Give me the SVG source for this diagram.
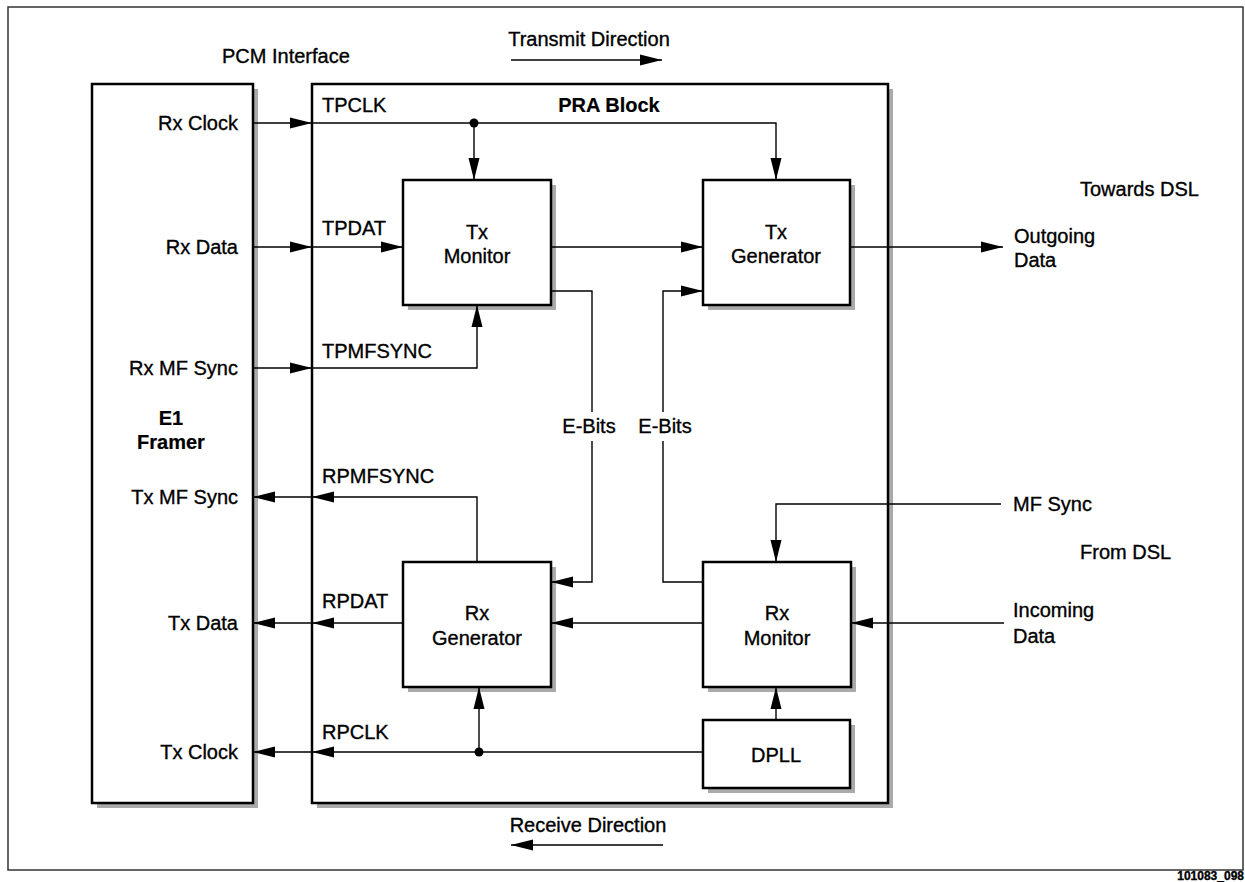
<svg xmlns="http://www.w3.org/2000/svg" width="1245" height="882" viewBox="0 0 1245 882">
<defs>
<style>
text{font-family:"Liberation Sans",Arial,sans-serif;font-size:20px;fill:#000;stroke:#000;stroke-width:0.35}
.b{font-weight:bold;stroke-width:0.2}
.m{text-anchor:middle}
.e{text-anchor:end}
.box{fill:#fff;stroke:#000;stroke-width:2.5}
.sh{fill:#aaa}
.ln{fill:none;stroke:#000;stroke-width:1.4}
.ar{marker-end:url(#ah)}
.ref{font-size:12px;font-weight:bold}
</style>
<marker id="ah" markerUnits="userSpaceOnUse" markerWidth="24" markerHeight="12" refX="22" refY="6" orient="auto" viewBox="0 0 24 12">
<path d="M0,0.5 L22,6 L0,11.5 Z" fill="#000"/>
</marker>
</defs>
<rect width="1245" height="882" fill="#fff"/>
<rect x="8" y="7" width="1235" height="863" fill="none" stroke="#333" stroke-width="1.5"/>
<text class="ref e" x="1244" y="880">101083_098</text>

<text x="222" y="63">PCM Interface</text>
<text class="m" x="589" y="46">Transmit Direction</text>
<text class="m" x="588" y="832">Receive Direction</text>
<text x="1080" y="196">Towards DSL</text>
<text x="1080" y="559">From DSL</text>

<g id="e1-framer">
<rect class="sh" x="97" y="89" width="161" height="719"/>
<rect class="box" x="92" y="84" width="161" height="719"/>
<text class="b m" x="171" y="425">E1</text>
<text class="b m" x="171" y="449">Framer</text>
<text class="e" x="238" y="130">Rx Clock</text>
<text class="e" x="238" y="254">Rx Data</text>
<text class="e" x="238" y="375">Rx MF Sync</text>
<text class="e" x="238" y="504">Tx MF Sync</text>
<text class="e" x="238" y="630">Tx Data</text>
<text class="e" x="238" y="759">Tx Clock</text>
</g>

<g id="pra-block">
<rect class="sh" x="317" y="89" width="576" height="719"/>
<rect class="box" x="312" y="84" width="576" height="719"/>
<text class="b m" x="609" y="112">PRA Block</text>
<text x="322" y="112">TPCLK</text>
<text x="322" y="235">TPDAT</text>
<text x="322" y="358">TPMFSYNC</text>
<text x="322" y="483">RPMFSYNC</text>
<text x="322" y="608">RPDAT</text>
<text x="322" y="739">RPCLK</text>
</g>

<g id="tx-monitor">
<rect class="sh" x="408" y="185" width="148" height="125"/>
<rect class="box" x="403" y="180" width="148" height="125"/>
<text class="m" x="477" y="239">Tx</text>
<text class="m" x="477" y="263">Monitor</text>
</g>

<g id="tx-generator">
<rect class="sh" x="708" y="185" width="147" height="125"/>
<rect class="box" x="703" y="180" width="147" height="125"/>
<text class="m" x="776" y="239">Tx</text>
<text class="m" x="776" y="263">Generator</text>
</g>

<g id="rx-generator">
<rect class="sh" x="408" y="567" width="148" height="125"/>
<rect class="box" x="403" y="562" width="148" height="125"/>
<text class="m" x="477" y="620">Rx</text>
<text class="m" x="477" y="645">Generator</text>
</g>

<g id="rx-monitor">
<rect class="sh" x="708" y="567" width="148" height="125"/>
<rect class="box" x="703" y="562" width="148" height="125"/>
<text class="m" x="777" y="620">Rx</text>
<text class="m" x="777" y="645">Monitor</text>
</g>

<g id="dpll">
<rect class="sh" x="708" y="725" width="147" height="68"/>
<rect class="box" x="703" y="720" width="147" height="68"/>
<text class="m" x="776" y="762">DPLL</text>
</g>

<g id="connectors">
<path class="ln" d="M511,60 H662" marker-end="url(#ah)"/>
<path class="ln" d="M663,845 H511" marker-end="url(#ah)"/>
<path class="ln ar" d="M253,123 H312"/>
<path class="ln ar" d="M312,123 H776 V180"/>
<path class="ln ar" d="M474,123 V180"/>
<circle cx="474" cy="123" r="4.5"/>
<path class="ln ar" d="M253,247 H312"/>
<path class="ln ar" d="M312,247 H403"/>
<path class="ln ar" d="M253,368 H312"/>
<path class="ln ar" d="M312,368 H477 V305"/>
<path class="ln ar" d="M551,247 H703"/>
<path class="ln ar" d="M850,247 H1003"/>
<text x="1014" y="243">Outgoing</text>
<text x="1014" y="267">Data</text>
<path class="ln" d="M551,291 H592 V412"/>
<path class="ln ar" d="M592,441 V582 H551"/>
<text class="m" x="589" y="433">E-Bits</text>
<path class="ln" d="M703,582 H663 V441"/>
<path class="ln ar" d="M663,412 V291 H703"/>
<text class="m" x="665" y="433">E-Bits</text>
<path class="ln ar" d="M477,562 V497 H312"/>
<path class="ln ar" d="M312,497 H253"/>
<path class="ln ar" d="M403,623 H312"/>
<path class="ln ar" d="M312,623 H253"/>
<path class="ln ar" d="M703,623 H551"/>
<path class="ln ar" d="M1004,623 H851"/>
<text x="1013" y="617">Incoming</text>
<text x="1013" y="643">Data</text>
<path class="ln ar" d="M1001,504 H776 V562"/>
<text x="1013" y="511">MF Sync</text>
<path class="ln ar" d="M776,720 V687"/>
<path class="ln ar" d="M703,752 H312"/>
<path class="ln ar" d="M312,752 H253"/>
<path class="ln ar" d="M479,752 V687"/>
<circle cx="479" cy="752" r="4.5"/>
</g>
</svg>
